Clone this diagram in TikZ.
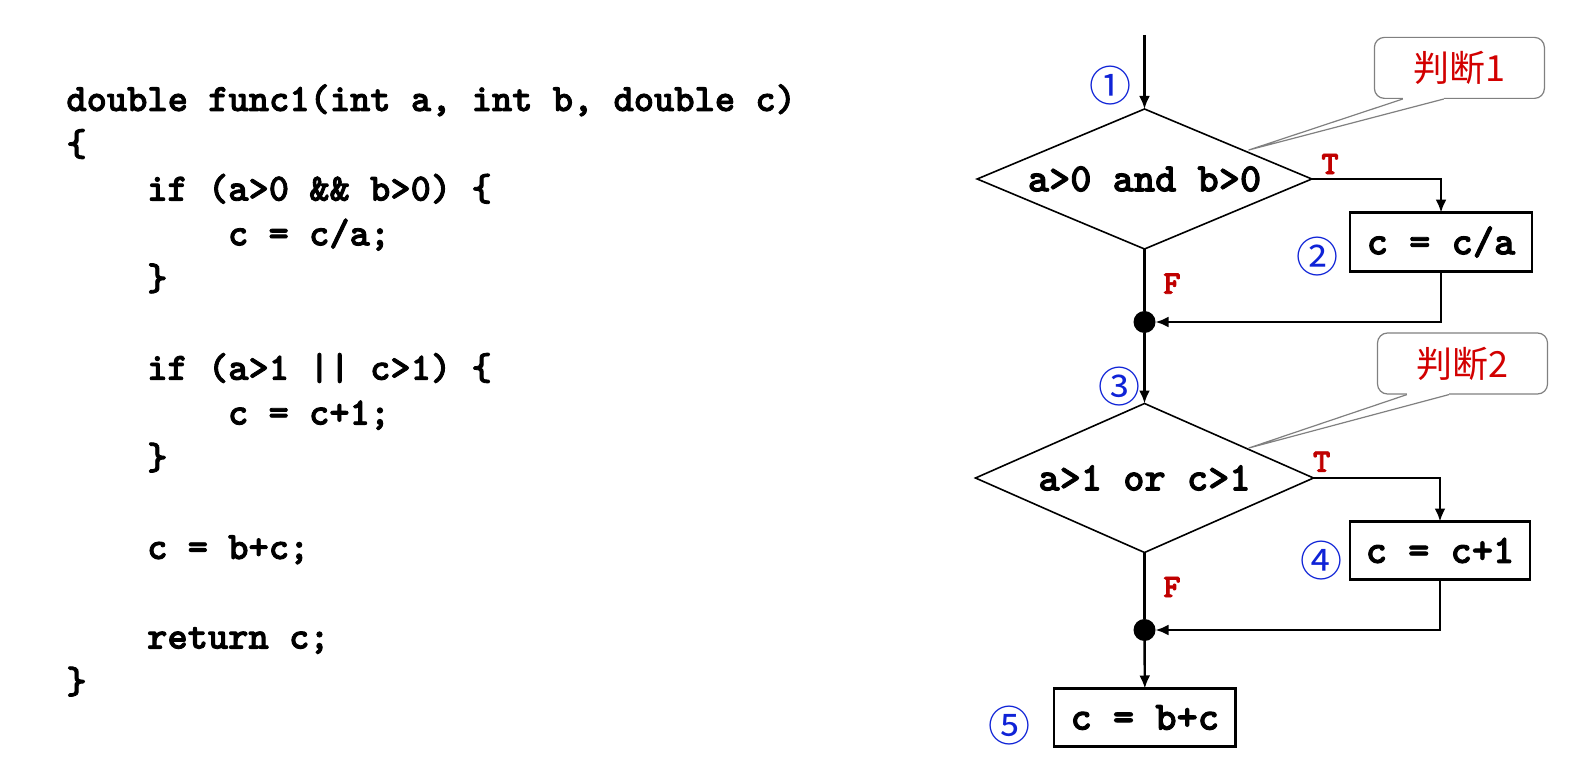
\documentclass[tikz,border=0pt]{standalone}
\usepackage{fontspec}
\newfontfamily\cjk{Noto Sans CJK SC}
\newfontfamily\codefont{lmmonolt10-bold.otf}[FakeBold=2.2]
\usetikzlibrary{shapes.geometric,arrows.meta,calc}
\definecolor{tfred}{RGB}{192,0,0}
\definecolor{cored}{RGB}{210,0,0}
\definecolor{numblue}{RGB}{15,35,215}
\definecolor{callgray}{RGB}{128,128,128}
\begin{document}
\begin{tikzpicture}[x=0.5pt,y=-0.5pt,
  code/.style={anchor=base west,inner sep=0,font=\codefont\fontsize{19.3}{23}\selectfont},
  cond/.style={diamond,draw,line width=0.8pt,aspect=2.4,inner sep=0,outer sep=0,font=\codefont\fontsize{20.2}{24}\selectfont},
  proc/.style={rectangle,draw,line width=1.3pt,inner sep=0,outer sep=0,font=\codefont\fontsize{20.2}{24}\selectfont},
  junc/.style={circle,fill,inner sep=0,outer sep=0,minimum size=11pt},
  flow/.style={line width=1.2pt,-{Latex[length=6.5pt,width=5.5pt]}},
  plainline/.style={line width=1.2pt},
  tf/.style={text=tfred,font=\codefont\fontsize{16.5}{18}\selectfont,inner sep=0},
  num/.style={text=numblue,font=\cjk\fontsize{21}{24}\selectfont,inner sep=0},
  callout/.style={rectangle,rounded corners=5pt,draw=callgray,line width=0.6pt,fill=white,text=cored,font=\cjk\fontsize{18}{20}\selectfont,minimum width=85pt,minimum height=30.5pt,inner sep=0},
  pointer/.style={draw=callgray,line width=0.6pt,line join=round}
]
\fill[white] (0,0) rectangle (1588,780);
\useasboundingbox (0,0) rectangle (1588,780);

% ---- code listing ----
\node[code] (l0) at (66,111) {double func1(int a, int b, double c)};
\node[code] (l1) at (66,155.8) {\{};
\node[code] (l2) at (146.8,200.6) {if (a>0 \&\& b>0) \{};
\node[code] (l3) at (227.6,245.4) {c = c/a;};
\node[code] (l4) at (146.8,290.2) {\}};
\node[code] (l6) at (146.8,379.8) {if (a>1 || c>1) \{};
\node[code] (l7) at (227.6,424.6) {c = c+1;};
\node[code] (l8) at (146.8,469.4) {\}};
\node[code] (l10) at (146.8,559) {c = b+c;};
\node[code] (l12) at (146.8,648.6) {return c;};
\node[code] (l13) at (66,693.4) {\}};

% ---- flowchart ----
\coordinate (start) at (1144.5,35);
\node[cond,minimum width=167.3pt,minimum height=70pt] (d1) at (1144.5,179) {a>0 and b>0};
\node[proc,minimum width=91pt,minimum height=29.4pt] (b2) at (1441,242) {c = c/a};
\node[junc] (j1) at (1144.5,322) {};
\node[cond,minimum width=169pt,minimum height=74.5pt] (d2) at (1144.5,478) {a>1 or c>1};
\node[proc,minimum width=90pt,minimum height=29pt] (b4) at (1440,550.5) {c = c+1};
\node[junc] (j2) at (1144.5,630) {};
\node[proc,minimum width=90.8pt,minimum height=29pt] (b5) at (1144.8,717.5) {c = b+c};

\draw[flow] (start) -- (d1.north);
\draw[flow] (d1.east) -| (b2.north);
\draw[plainline] (d1.south) -- (j1);
\draw[flow] (b2.south) |- (j1.east);
\draw[flow] (j1) -- (d2.north);
\draw[flow] (d2.east) -| (b4.north);
\draw[plainline] (d2.south) -- (j2);
\draw[flow] (b4.south) |- (j2.east);
\draw[flow] (j2) -- (b5.north);

% ---- T/F labels ----
\node[tf] (t1) at (1330,164) {T};
\node[tf] (f1) at (1172,283.6) {F};
\node[tf] (t2) at (1321.7,461.8) {T};
\node[tf] (f2) at (1172,587) {F};

% ---- circled numbers ----
\node[num] (n1) at (1110,86) {①};
\node[num] (n2) at (1317.6,257) {②};
\node[num] (n3) at (1119,387) {③};
\node[num] (n4) at (1321.7,561) {④};
\node[num] (n5) at (1009.8,726) {⑤};

% ---- callouts ----
\node[callout] (c1) at (1459.4,67.9) {判断1};
\coordinate (p1) at (1248.8,150);
\fill[white] ($(c1.south west)+(29,-2)$) rectangle ($(c1.south west)+(70,2)$);
\draw[pointer] ($(c1.south west)+(29,0)$) -- (p1) -- ($(c1.south west)+(70,0)$);

\node[callout] (c2) at (1462.5,363.5) {判断2};
\coordinate (p2) at (1248.8,448);
\fill[white] ($(c2.south west)+(30,-2)$) rectangle ($(c2.south west)+(72,2)$);
\draw[pointer] ($(c2.south west)+(30,0)$) -- (p2) -- ($(c2.south west)+(72,0)$);
\end{tikzpicture}
\end{document}
